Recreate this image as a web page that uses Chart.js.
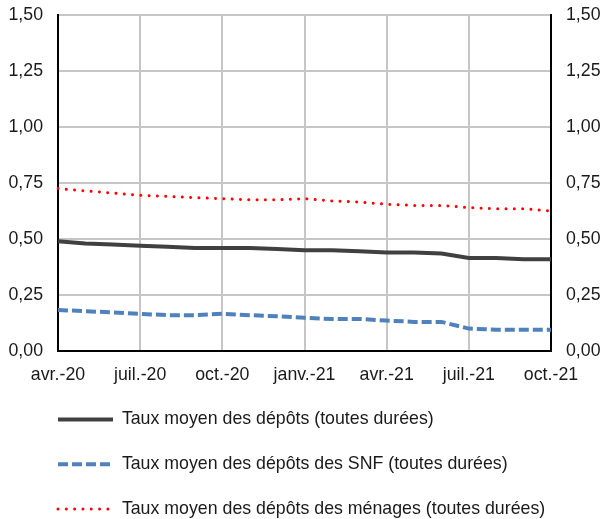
<!DOCTYPE html>
<html>
<head>
<meta charset="utf-8">
<script src="https://cdn.jsdelivr.net/npm/chart.js@4/dist/chart.umd.min.js"></script>
<style>
  html, body { margin: 0; padding: 0; background: #fff; }
  #wrap { width: 603px; height: 519px; }
</style>
</head>
<body>
<div id="wrap"><canvas id="c" width="603" height="519"></canvas></div>
<script>
// mois (avr. 2020 -> oct. 2021)
const months = ['avr.-20', 'mai-20', 'juin-20', 'juil.-20', 'août-20', 'sept.-20', 'oct.-20', 'nov.-20', 'déc.-20',
    'janv.-21', 'févr.-21', 'mars-21', 'avr.-21', 'mai-21', 'juin-21', 'juil.-21', 'août-21', 'sept.-21', 'oct.-21'];

const tauxTotal = [0.49, 0.48, 0.475, 0.47, 0.465, 0.46, 0.46, 0.46, 0.455, 0.45, 0.45, 0.445, 0.44, 0.44, 0.435, 0.415, 0.415, 0.41, 0.41];
const tauxSNF = [0.183, 0.178, 0.172, 0.166, 0.16, 0.16, 0.166, 0.16, 0.155, 0.148, 0.143, 0.143, 0.136, 0.13, 0.13, 0.10, 0.095, 0.095, 0.095];
const tauxMenages = [0.725, 0.715, 0.705, 0.695, 0.69, 0.685, 0.68, 0.675, 0.675, 0.68, 0.67, 0.665, 0.655, 0.65, 0.65, 0.64, 0.635, 0.635, 0.625];

const seriesNames = ['Taux moyen des dépôts (toutes durées)',
    'Taux moyen des dépôts des SNF (toutes durées)',
    'Taux moyen des dépôts des ménages (toutes durées)'];

const yTicks = { min: 0, max: 1.5, step: 0.25 };

const grey = '#c6c6c6';
const fmt = v => v.toFixed(2).replace('.', ',');

Chart.defaults.font.family = '"Liberation Sans", Arial, sans-serif';
Chart.defaults.font.size = 17.75;
Chart.defaults.color = '#1a1a1a';

// legende alignee sous l'axe gauche, comme dans Excel
const legendShift = {
    id: 'legendShift',
    afterLayout(chart) {
        const lg = chart.legend;
        const h = lg.bottom - lg.top;
        lg.left = 31;
        lg.top = 383.5;
        lg.bottom = lg.top + h;
    }
};

const noPad = s => { s.paddingTop = 0; s.paddingBottom = 0; };

// en mode pointStyle la legende prend le style des points -> on remet tirets et epaisseur
const legendItems = chart => {
    const items = Chart.defaults.plugins.legend.labels.generateLabels(chart);
    items.forEach(it => {
        const ds = chart.data.datasets[it.datasetIndex];
        it.lineDash = ds.borderDash || [];
        it.lineCap = ds.borderCapStyle || 'butt';
        it.lineWidth = ds.borderWidth;
        it.strokeStyle = ds.borderColor;
        it.pointStyle = 'line';
    });
    return items;
};

let ctx = document.getElementById('c').getContext('2d');
let chart = new Chart(ctx, {
    type: 'line',
    data: {
        labels: months,
        datasets: [{
            label: seriesNames[0],
            data: tauxTotal,
            borderColor: '#404040',
            borderWidth: 4,
            pointRadius: 0,
            tension: 0
        }, {
            label: seriesNames[1],
            data: tauxSNF,
            borderColor: 'rgb(79, 129, 189)',
            borderWidth: 4,
            borderDash: [10, 4],
            pointRadius: 0,
            tension: 0
        }, {
            label: seriesNames[2],
            data: tauxMenages,
            borderColor: '#ff0000',
            borderWidth: 3,
            borderDash: [0.01, 8.3],
            borderCapStyle: 'round',
            pointRadius: 0,
            tension: 0
        }]
    },
    plugins: [legendShift],
    options: {
        responsive: false,
        animation: false,
        layout: { padding: { left: 0, right: 0, top: 15, bottom: -21.25 } },
        plugins: {
            tooltip: { enabled: false },
            legend: {
                position: 'bottom',
                align: 'start',
                labels: {
                    usePointStyle: true,
                    pointStyle: 'line',
                    pointStyleWidth: 55,
                    padding: 27,
                    color: '#1a1a1a',
                    generateLabels: legendItems
                }
            }
        },
        scales: {
            x: {
                offset: false,
                afterFit: s => { s.height = 45; s.paddingLeft = 0; s.paddingRight = 0; },
                grid: {
                    drawTicks: false,
                    lineWidth: 2,
                    color: c => (c.index % 3 === 0 && c.index !== 0 && c.index !== months.length - 1) ? grey : 'rgba(0,0,0,0)'
                },
                border: { color: '#000', width: 2 },
                ticks: {
                    autoSkip: false,
                    maxRotation: 0,
                    minRotation: 0,
                    padding: 13,
                    callback: (v, i) => i % 3 === 0 ? months[i] : ''
                }
            },
            y: {
                position: 'left',
                min: yTicks.min,
                max: yTicks.max,
                afterFit: s => { s.width = 58; noPad(s); },
                grid: {
                    drawTicks: false,
                    lineWidth: 2,
                    color: c => c.index === 0 ? 'rgba(0,0,0,0)' : grey
                },
                border: { color: '#000', width: 2 },
                ticks: { stepSize: yTicks.step, padding: 15, callback: v => fmt(v) }
            },
            y2: {
                position: 'right',
                min: yTicks.min,
                max: yTicks.max,
                afterFit: s => { s.width = 52; noPad(s); },
                grid: { display: false, drawTicks: false },
                border: { color: '#000', width: 2 },
                ticks: { stepSize: yTicks.step, padding: 15, callback: v => fmt(v) }
            }
        }
    }
});
</script>
</body>
</html>
